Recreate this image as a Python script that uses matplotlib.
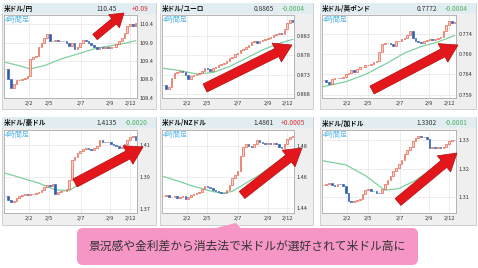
import matplotlib
matplotlib.use('Agg')
import matplotlib.pyplot as plt
import matplotlib.patches as mpatches
import numpy as np

plt.rcParams['font.family'] = ['Noto Sans CJK JP', 'DejaVu Sans']

W, H = 478, 268

titles = ['米ドル/円', '米ドル/ユーロ', '米ドル/英ポンド', '米ドル/豪ドル', '米ドル/NZドル', '米ドル/加ドル']
prices = ['110.45', '0.8865', '0.7772', '1.4135', '1.4861', '1.3302']
changes = ['+0.09', '-0.0004', '-0.0004', '-0.0020', '+0.0005', '-0.0001']
date_labels = ['2/2', '2/5', '2/7', '2/9', '2/12']
date_pos = [8.6, 15.8, 27.3, 37.9, 45.1]

# 4時間足 closes
jpy_close = [109.18, 108.91, 108.67, 108.78, 108.87, 108.89, 108.90, 108.94, 109.00, 109.45,
             109.52, 109.54, 109.77, 109.88, 110.02, 110.13, 109.95, 109.93, 109.97, 109.93,
             109.95, 109.93, 109.90, 109.81, 109.88, 109.72, 109.77, 109.90, 109.97, 109.93,
             109.90, 109.84, 109.79, 109.72, 109.77, 109.75, 109.77, 109.74, 109.77, 109.79,
             109.86, 109.93, 110.02, 110.17, 110.35, 110.40, 110.35, 110.42]
eur_close = [0.87046, 0.86936, 0.86986, 0.87215, 0.87342, 0.87385, 0.87410, 0.87385, 0.87300, 0.87190,
             0.87275, 0.87300, 0.87325, 0.87360, 0.87410, 0.87470, 0.87444, 0.87410, 0.87470, 0.87512,
             0.87546, 0.87580, 0.87614, 0.87664, 0.87724, 0.87766, 0.87834, 0.87868, 0.87936, 0.87970,
             0.88020, 0.88071, 0.88139, 0.88173, 0.88122, 0.88156, 0.88190, 0.88224, 0.88241, 0.88275,
             0.88308, 0.88334, 0.88359, 0.88342, 0.88461, 0.88614, 0.88715, 0.88656]
gbp_close = [0.76261, 0.76205, 0.76157, 0.76285, 0.76301, 0.76317, 0.76301, 0.76341, 0.76422, 0.76446,
             0.76502, 0.76462, 0.76526, 0.76582, 0.76582, 0.76622, 0.76638, 0.76662, 0.76718, 0.76742,
             0.76943, 0.77143, 0.77183, 0.77167, 0.77143, 0.77103, 0.77224, 0.77224, 0.77264, 0.77304,
             0.77384, 0.77464, 0.77304, 0.77224, 0.77200, 0.77183, 0.77224, 0.77248, 0.77264, 0.77248,
             0.77280, 0.77304, 0.77328, 0.77464, 0.77625, 0.77705, 0.77665, 0.77697]
aud_close = [1.37788, 1.37580, 1.37435, 1.37518, 1.37684, 1.37788, 1.37891, 1.37933, 1.37891, 1.37933,
             1.37953, 1.37995, 1.38057, 1.38181, 1.38347, 1.38513, 1.38430, 1.38554, 1.37933, 1.38057,
             1.38098, 1.38140, 1.38264, 1.38824, 1.40067, 1.40275, 1.40482, 1.40627, 1.40751, 1.40793,
             1.40751, 1.40710, 1.40793, 1.40959, 1.41311, 1.41207, 1.41166, 1.41207, 1.41083, 1.41000,
             1.40917, 1.40834, 1.40896, 1.41083, 1.41332, 1.41497, 1.41539, 1.41332]
nzd_close = [1.44745, 1.44809, 1.44723, 1.44681, 1.44745, 1.44638, 1.44702, 1.44766, 1.44596, 1.44681,
             1.44851, 1.44894, 1.44936, 1.45021, 1.45191, 1.45404, 1.45362, 1.45277, 1.45149, 1.45064,
             1.45021, 1.44979, 1.44936, 1.45170, 1.45489, 1.45915, 1.46085, 1.46383, 1.47362, 1.47936,
             1.48128, 1.48000, 1.47915, 1.48085, 1.48340, 1.48255, 1.48170, 1.48128, 1.48170, 1.48128,
             1.48149, 1.48085, 1.47915, 1.47830, 1.48128, 1.48426, 1.48553, 1.48596]
cad_close = [1.31405, 1.31439, 1.31486, 1.31416, 1.31393, 1.31462, 1.31439, 1.31370, 1.31116, 1.30861,
             1.30827, 1.30861, 1.30884, 1.30931, 1.31092, 1.31254, 1.31277, 1.31208, 1.31185, 1.31139,
             1.31116, 1.31289, 1.31439, 1.31601, 1.31740, 1.31902, 1.32017, 1.32156, 1.32318, 1.32503,
             1.32642, 1.32780, 1.32965, 1.33081, 1.33150, 1.33104, 1.33127, 1.33058, 1.32734, 1.32780,
             1.32734, 1.32780, 1.32734, 1.32780, 1.32873, 1.32965, 1.33012, 1.33023]

# moving average (green line), sampled points
jpy_ma_x = [0, 5, 9, 14, 20, 27, 33, 38, 43, 47]
jpy_ma = [109.36, 109.27, 109.18, 109.27, 109.45, 109.61, 109.75, 109.81, 109.88, 109.95]
eur_ma_x = [0, 6, 12, 18, 24, 30, 36, 42, 47]
eur_ma = [0.8747, 0.8741, 0.87325, 0.8736, 0.87512, 0.87724, 0.87936, 0.88105, 0.88207]
gbp_ma_x = [0, 8, 15, 23, 29, 35, 41, 47]
gbp_ma = [0.76101, 0.76221, 0.76398, 0.76686, 0.76927, 0.77087, 0.77200, 0.77360]
aud_ma_x = [0, 6, 12, 18, 23, 28, 34, 40, 47]
aud_ma = [1.39238, 1.38927, 1.38617, 1.38202, 1.38140, 1.38720, 1.39446, 1.40275, 1.40896]
nzd_ma_x = [0, 5, 10, 15, 21, 25, 29, 35, 41, 47]
nzd_ma = [1.46021, 1.45745, 1.45447, 1.45191, 1.44936, 1.45064, 1.45489, 1.46128, 1.46872, 1.47723]
cad_ma_x = [0, 8, 15, 22, 27, 33, 39, 47]
cad_ma = [1.32272, 1.32133, 1.31751, 1.31231, 1.31289, 1.31578, 1.31983, 1.32526]

jpy_ticks = [108.4, 108.9, 109.4, 109.9, 110.4]
eur_ticks = [0.868, 0.873, 0.878, 0.883]
gbp_ticks = [0.759, 0.764, 0.769, 0.774]
aud_ticks = [1.37, 1.39, 1.41]
nzd_ticks = [1.44, 1.46, 1.48]
cad_ticks = [1.31, 1.32, 1.33]

closes = [jpy_close, eur_close, gbp_close, aud_close, nzd_close, cad_close]
ma_xs = [jpy_ma_x, eur_ma_x, gbp_ma_x, aud_ma_x, nzd_ma_x, cad_ma_x]
mas = [jpy_ma, eur_ma, gbp_ma, aud_ma, nzd_ma, cad_ma]
ticks = [jpy_ticks, eur_ticks, gbp_ticks, aud_ticks, nzd_ticks, cad_ticks]
fmts = ['%.1f', '%.3f', '%.3f', '%.2f', '%.2f', '%.2f']
ylims = [(108.39, 110.65), (0.8671, 0.8883), (0.7582, 0.77865),
         (1.3675, 1.4193), (1.4368, 1.49), (1.3042, 1.3337)]

callout = '景況感や金利差から消去法で米ドルが選好されて米ドル高に'

# layout (pixels)
cols = [(2, 156, 4, 137), (160, 313, 162, 294), (320, 476, 322, 456)]
rows = [(3, 109, 14, 15, 98), (117, 225, 128, 130, 213)]
arrows = [((95, 37), (124, 13), 7, 17, 13),
          ((205, 88), (292, 45), 9, 21, 17),
          ((372, 90), (458, 45), 9, 21, 17),
          ((75, 183), (143, 147), 9, 21, 17),
          ((242, 195), (302, 148), 9, 21, 17),
          ((398, 202), (457, 153), 9, 21, 17)]

fig = plt.figure(figsize=(W / 100, H / 100), dpi=100)
fig.patch.set_facecolor('white')

bg = fig.add_axes([0, 0, 1, 1], zorder=0)
bg.set_xlim(0, W)
bg.set_ylim(H, 0)
bg.axis('off')

fg = fig.add_axes([0, 0, 1, 1], zorder=5)
fg.set_xlim(0, W)
fg.set_ylim(H, 0)
fg.axis('off')
fg.patch.set_alpha(0)

for k in range(6):
    r, c = divmod(k, 3)
    px0, px1, ax0, ax1 = cols[c]
    py0, py1, hy1, ay0, ay1 = rows[r]

    bg.add_patch(mpatches.Rectangle((px0, py0), px1 - px0, py1 - py0,
                                    facecolor='#efefef', edgecolor='#c9c9c9', lw=0.6))
    bg.add_patch(mpatches.Rectangle((px0, py0), px1 - px0, hy1 - py0,
                                    facecolor='#e2edf1', edgecolor='none'))
    hy = (py0 + hy1) / 2 + 0.5
    bg.text(px0 + 2, hy, titles[k], fontsize=4.8, fontweight='bold', color='#111111',
            ha='left', va='center')
    bg.text(px1 - 39, hy, prices[k], fontsize=4.8, color='#333333', ha='right', va='center')
    ccol = '#e0303a' if changes[k].startswith('+') else '#4fb060'
    bg.text(px1 - 8, hy, changes[k], fontsize=4.8, color=ccol, ha='right', va='center')

    ax = fig.add_axes([ax0 / W, 1 - ay1 / H, (ax1 - ax0) / W, (ay1 - ay0) / H], zorder=1)
    ax.set_facecolor('white')
    cl = np.array(closes[k])
    op = np.r_[cl[0], cl[:-1]]
    x = np.arange(len(cl))
    up = cl >= op
    ax.bar(x[up], (cl - op)[up], bottom=op[up], width=0.6,
           facecolor='#f9cfc6', edgecolor='#e2553f', lw=0.45, zorder=3)
    ax.bar(x[~up], (cl - op)[~up], bottom=op[~up], width=0.6,
           facecolor='#2d5db3', edgecolor='#2d5db3', lw=0.45, zorder=3)
    ax.plot(ma_xs[k], mas[k], color='#7fd0a0', lw=0.9, zorder=2)

    ax.set_xlim(-0.5, len(cl) - 0.5)
    ax.set_ylim(*ylims[k])
    ax.set_xticks(date_pos, date_labels)
    ax.set_yticks(ticks[k], [fmts[k] % t for t in ticks[k]])
    ax.yaxis.tick_right()
    ax.tick_params(length=0, labelsize=4, colors='#333333', pad=2)
    ax.grid(color='#e6e6e6', lw=0.5, zorder=0)
    for s in ax.spines.values():
        s.set_color('#aaaaaa')
        s.set_linewidth(0.6)
    ax.text(0.005, 0.99, '4時間足', transform=ax.transAxes, fontsize=5,
            color='#5ab8e6', ha='left', va='top', zorder=4)

for (tx, ty), (hx, hy2), wd, hw, hl in arrows:
    fg.add_patch(mpatches.FancyArrow(tx, ty, hx - tx, hy2 - ty, width=wd, head_width=hw,
                                     head_length=hl, length_includes_head=True,
                                     facecolor='#e3161c', edgecolor='#b40f12', lw=0.5))

pink = '#f696c6'
fg.add_patch(mpatches.FancyBboxPatch((77, 228), 341, 37,
                                     boxstyle='round,pad=0,rounding_size=6',
                                     facecolor=pink, edgecolor='none'))
fg.add_patch(mpatches.Polygon([(214, 228.5), (236, 223), (241, 228.5)],
                              closed=True, facecolor=pink, edgecolor='none'))
fg.text(247, 246.5, callout, fontsize=8.5, color='#333333', ha='center', va='center')

fig.savefig('out.png', dpi=100)
